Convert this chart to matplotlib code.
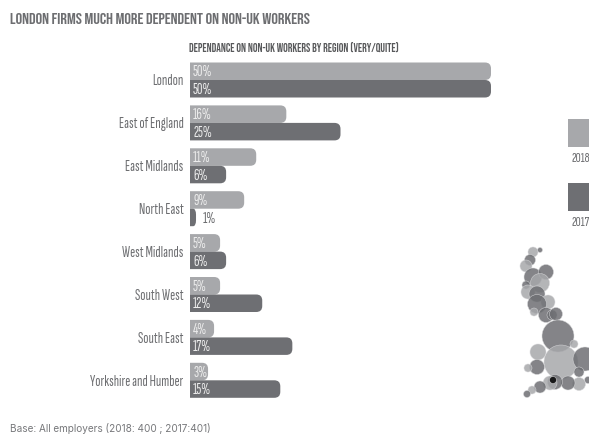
import matplotlib
matplotlib.use('Agg')
from matplotlib import pyplot as plt
from matplotlib.patches import PathPatch, Rectangle
from matplotlib.path import Path

regions = ['London', 'East of England', 'East Midlands', 'North East',
           'West Midlands', 'South West', 'South East', 'Yorkshire and Humber']
values_2018 = [50, 16, 11, 9, 5, 5, 4, 3]
values_2017 = [50, 25, 6, 1, 6, 12, 17, 15]

# bubbles of the small map: x, y, radius (pixels), shade
bubble_x = [533, 540, 530, 526, 533, 546, 540, 526, 528, 537, 548, 537, 534,
            546, 552, 556, 558, 574, 538, 561, 585, 537, 528, 579, 588, 579,
            568, 555, 550, 553, 540, 532, 527]
bubble_y = [252, 250, 260, 266, 277, 272, 283, 285, 292, 294, 302, 304, 312,
            315, 315, 314, 336, 344, 352, 362, 359, 367, 368, 372, 380, 384,
            383, 382, 383, 380, 387, 390, 394]
bubble_r = [5, 2.5, 5.5, 6, 9, 7.5, 9.5, 4, 7, 8, 7, 9.5, 4,
            7.5, 5, 6.5, 16, 4, 8, 17, 12, 7.5, 4, 5, 3.5, 6.5,
            7, 7.5, 7, 3.5, 6, 4, 3.5]
bubble_c = ['#a7a8ab', '#6e6f73', '#6e6f73', '#a7a8ab', '#6e6f73', '#6e6f73',
            '#a7a8ab', '#6e6f73', '#a7a8ab', '#6e6f73', '#a7a8ab', '#6e6f73',
            '#a7a8ab', '#6e6f73', '#6e6f73', '#6e6f73', '#6e6f73', '#a7a8ab',
            '#a7a8ab', '#a7a8ab', '#6e6f73', '#6e6f73', '#a7a8ab', '#6e6f73',
            '#6e6f73', '#a7a8ab', '#6e6f73', '#6e6f73', '#a7a8ab', '#000000',
            '#6e6f73', '#a7a8ab', '#6e6f73']

W, H = 589, 434
LIGHT = '#a7a8ab'
DARK = '#6e6f73'
TEXT = '#6d6e71'
NARROW = ['Sofia Sans Extra Condensed', 'DejaVu Sans']
HEAD = ['Bebas Neue', 'Sofia Sans Extra Condensed', 'DejaVu Sans']

PX_PER_PCT = 6.02
ROW_PX = 42.9
BAR_PX = 17.5
RADIUS_PX = 6

fig = plt.figure(figsize=(W / 100, H / 100), dpi=100)

# full figure layer in pixel coordinates for the map and legend
bg = fig.add_axes([0, 0, 1, 1])
bg.set_xlim(0, W)
bg.set_ylim(H, 0)
bg.axis('off')

bg.scatter(bubble_x, bubble_y, s=[(2 * r * 0.72) ** 2 for r in bubble_r],
           c=bubble_c, alpha=0.85, edgecolors='#d8d8da', linewidths=0.4)

bg.add_patch(Rectangle((568, 119), 21, 28, color=LIGHT, lw=0))
bg.add_patch(Rectangle((568, 183), 21, 28, color=DARK, lw=0))
bg.text(571, 159, '2018', fontsize=10.2, color=TEXT, family=NARROW, va='center')
bg.text(571, 223, '2017', fontsize=10.2, color=TEXT, family=NARROW, va='center')

bg.text(10, 18, 'LONDON FIRMS MUCH MORE DEPENDENT ON NON-UK WORKERS', fontsize=11.8,
        color=TEXT, family=HEAD, va='center')
bg.text(189, 47, 'DEPENDANCE ON NON-UK WORKERS BY REGION (VERY/QUITE)', fontsize=8.3,
        color='#58595b', family=HEAD, va='center')
bg.text(10, 428, 'Base: All employers (2018: 400 ; 2017:401)', fontsize=7.2,
        color='#77787b', family='Inter', va='center')

# bar chart: x in percent, y in rows
ax = fig.add_axes([190 / W, 0, (W - 190) / W, 1])
ax.set_xlim(0, (W - 190) / PX_PER_PCT)
ax.set_ylim((H - 80) / ROW_PX, -80 / ROW_PX)
ax.axis('off')

bar_h = BAR_PX / ROW_PX
rx = RADIUS_PX / PX_PER_PCT
ry = RADIUS_PX / ROW_PX
nudge = 1.2 / ROW_PX


def rounded_bar(value, top, color):
    # flat on the axis side, rounded on the value side
    r = min(rx, value / 2)
    bottom = top + bar_h
    verts = [(0, top), (value - r, top), (value, top), (value, top + ry),
             (value, bottom - ry), (value, bottom), (value - r, bottom),
             (0, bottom), (0, top)]
    codes = [Path.MOVETO, Path.LINETO, Path.CURVE3, Path.CURVE3,
             Path.LINETO, Path.CURVE3, Path.CURVE3, Path.LINETO, Path.CLOSEPOLY]
    ax.add_patch(PathPatch(Path(verts, codes), facecolor=color, edgecolor='none'))


def value_label(value, y):
    if value < 3:
        ax.text(value + 1.1, y + nudge, f'{value}%', fontsize=11, color=TEXT,
                family=NARROW, va='center')
    else:
        ax.text(0.5, y + nudge, f'{value}%', fontsize=11, color='#ececec',
                family=NARROW, va='center')


for i, region in enumerate(regions):
    rounded_bar(values_2018[i], i - bar_h, LIGHT)
    rounded_bar(values_2017[i], i, DARK)
    value_label(values_2018[i], i - bar_h / 2)
    value_label(values_2017[i], i + bar_h / 2)
    ax.text(-1.1, i + nudge, region, fontsize=11.1, color=TEXT, family=NARROW,
            ha='right', va='center')

fig.savefig('out.png', dpi=100)
